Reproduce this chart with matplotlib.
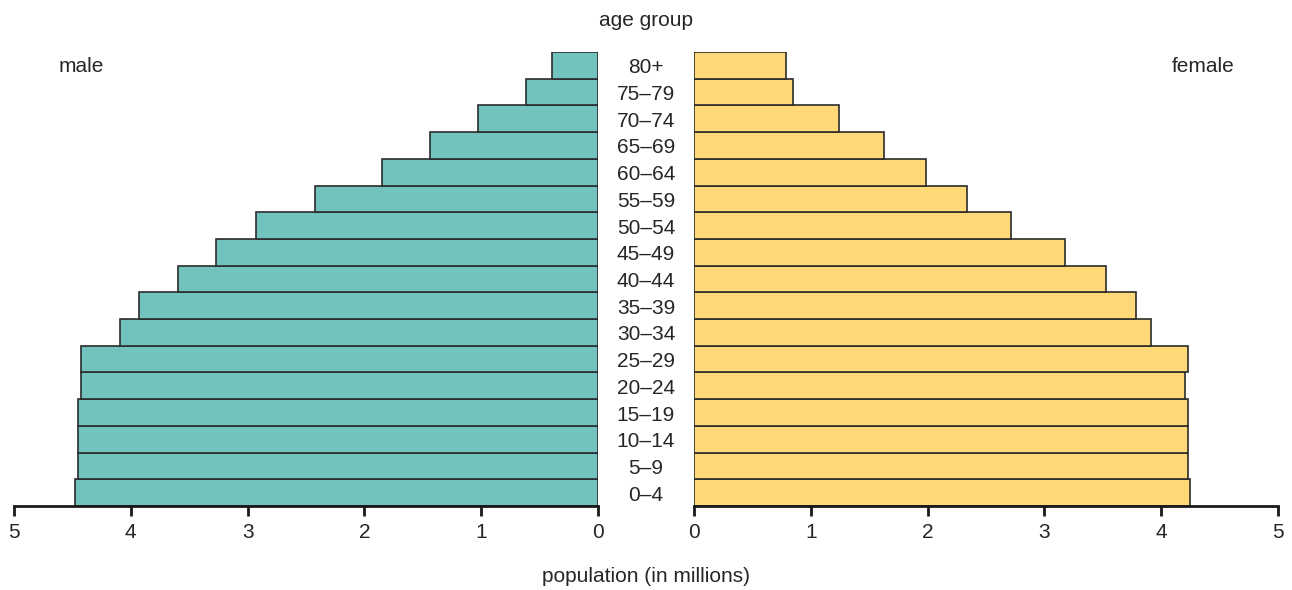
import matplotlib
matplotlib.use('Agg')
import matplotlib.pyplot as plt
import matplotlib.transforms as mtransforms

plt.rcParams['font.family'] = ['Liberation Sans Narrow', 'Liberation Sans', 'DejaVu Sans']

age_groups = ['0–4', '5–9', '10–14', '15–19', '20–24', '25–29', '30–34', '35–39',
              '40–44', '45–49', '50–54', '55–59', '60–64', '65–69', '70–74', '75–79', '80+']
male = [4.48, 4.45, 4.45, 4.45, 4.43, 4.43, 4.09, 3.93,
        3.60, 3.27, 2.93, 2.42, 1.85, 1.44, 1.03, 0.62, 0.39]
female = [4.25, 4.23, 4.23, 4.23, 4.20, 4.23, 3.91, 3.78,
          3.53, 3.18, 2.71, 2.34, 1.99, 1.63, 1.24, 0.85, 0.79]
x_ticks = [0, 1, 2, 3, 4, 5]

male_color = '#72c3bd'
female_color = '#ffd978'
edge = '#2b2b2b'
txt = '#262626'
fs = 15

W, H = 1292, 590
fig = plt.figure(figsize=(W / 100, H / 100), dpi=100)

bottom = (H - 506) / H
height = (506 - 52) / H
axL = fig.add_axes([14 / W, bottom, (598 - 14) / W, height])
axR = fig.add_axes([694 / W, bottom, (1278 - 694) / W, height])

ypos = list(range(len(age_groups)))
axL.barh(ypos, male, height=1.0, color=male_color, edgecolor=edge, linewidth=1.2)
axR.barh(ypos, female, height=1.0, color=female_color, edgecolor=edge, linewidth=1.2)

axL.set_xlim(5, 0)
axR.set_xlim(0, 5)
for ax in (axL, axR):
    ax.set_ylim(-0.5, len(age_groups) - 0.5)
    for s in ('top', 'left', 'right'):
        ax.spines[s].set_visible(False)
    ax.spines['bottom'].set_linewidth(2.0)
    ax.spines['bottom'].set_color('#1a1a1a')
    ax.set_yticks([])
    ax.set_xticks(x_ticks)
    ax.set_xticklabels([str(t) for t in x_ticks])
    ax.tick_params(axis='x', direction='out', length=7, width=2.0, color='#1a1a1a',
                   labelsize=fs, labelcolor=txt, pad=5)

# age group labels in the gap, nudged a little below bar centres
trans = mtransforms.blended_transform_factory(fig.transFigure, axL.transData)
trans = mtransforms.offset_copy(trans, fig=fig, y=-2.5, units='dots')
for y, lab in zip(ypos, age_groups):
    fig.text(646 / W, y, lab, transform=trans, ha='center', va='center',
             fontsize=fs, color=txt)

fig.text(646 / W, 1 - 21 / H, 'age group', ha='center', va='center', fontsize=fs, color=txt)
fig.text(81 / W, 1 - 67 / H, 'male', ha='center', va='center', fontsize=fs, color=txt)
fig.text(1203 / W, 1 - 67 / H, 'female', ha='center', va='center', fontsize=fs, color=txt)
fig.text(646 / W, 1 - 577 / H, 'population (in millions)', ha='center', va='center',
         fontsize=fs, color=txt)

fig.savefig('out.png', dpi=100)
